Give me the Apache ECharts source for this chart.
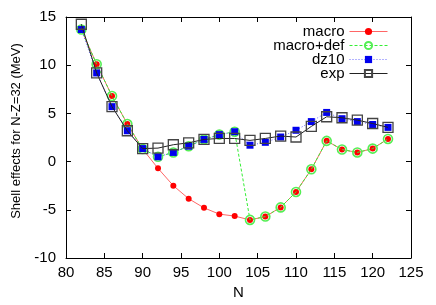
<!DOCTYPE html>
<html><head><meta charset="utf-8">
<script src="https://cdn.jsdelivr.net/npm/echarts@6/dist/echarts.min.js"></script>
<style>html,body{margin:0;padding:0;background:#fff}#c{width:436px;height:305px}</style>
</head><body><div id="c"></div>
<script>
const N = [82,84,86,88,90,92,94,96,98,100,102,104,106,108,110,112,114,116,118,120,122];
const macro = [13.7,10.1,6.8,3.9,1.3,-0.7,-2.5,-3.85,-4.8,-5.45,-5.65,-6.05,-5.7,-4.75,-3.15,-0.8,2.15,1.25,0.95,1.35,2.35];
const macroDef = [13.7,10.1,6.8,3.9,1.3,0.5,0.95,1.6,2.3,2.8,3.1,-6.05,-5.7,-4.75,-3.15,-0.8,2.15,1.25,0.95,1.35,2.35];
const dz10 = [13.7,9.2,5.7,3.2,1.35,0.5,0.95,1.6,2.3,2.8,3.1,1.7,2.0,2.55,3.25,4.15,5.1,4.45,4.15,3.85,3.55];
const expv = [14.25,9.2,5.7,3.2,1.35,1.4,1.75,1.95,2.3,2.4,2.4,2.2,2.4,2.65,2.55,3.65,4.65,4.55,4.3,3.95,3.55];
const seriesNames = ['macro','macro+def','dz10','exp'];
const xLabel = 'N';
const yLabel = 'Shell effects for N-Z=32 (MeV)';

const pairs = a => N.map((n,i)=>[n,a[i]]);
const font = 'Liberation Sans, Arial, Helvetica, sans-serif';
const chart = echarts.init(document.getElementById('c'), null, {renderer:'canvas'});
const axCommon = {
  type:'value', axisLine:{show:true, onZero:false, lineStyle:{color:'#000',width:1}},
  axisTick:{show:true, inside:true, length:5, lineStyle:{color:'#000'}},
  splitLine:{show:false}
};
const clear = 'rgba(255,255,255,0)';
chart.setOption({
  animation:false,
  grid:{left:66, right:25, top:17, bottom:44},
  legend:{
    orient:'vertical', right:43, top:19, align:'right', itemGap:-1,
    itemWidth:38, itemHeight:9,
    lineStyle:{width:1},
    textStyle:{fontFamily:font, fontSize:15, color:'#000'},
    data:seriesNames
  },
  xAxis:[
    Object.assign({}, axCommon, {min:80, max:125, interval:5, position:'bottom',
      name:xLabel, nameLocation:'middle', nameGap:27,
      nameTextStyle:{fontFamily:font, fontSize:15, color:'#000'},
      axisLabel:{fontFamily:font, fontSize:15, color:'#000', margin:7}}),
    Object.assign({}, axCommon, {min:80, max:125, interval:5, position:'top', axisLabel:{show:false}})
  ],
  yAxis:[
    Object.assign({}, axCommon, {min:-10, max:15, interval:5, position:'left',
      name:yLabel, nameLocation:'middle', nameGap:30,
      nameTextStyle:{fontFamily:font, fontSize:13, color:'#000', padding:[0,0,0,13]},
      axisLabel:{fontFamily:font, fontSize:15, color:'#000', margin:10}}),
    Object.assign({}, axCommon, {min:-10, max:15, interval:5, position:'right', axisLabel:{show:false}})
  ],
  series:[
    {name:seriesNames[0], type:'line', data:pairs(macro), symbol:'circle', symbolSize:6, showAllSymbol:true,
      lineStyle:{color:'#ff6666', width:1}, itemStyle:{color:'#ff0000'}, z:2},
    {name:seriesNames[1], type:'line', data:pairs(macroDef), symbol:'circle', symbolSize:9, showAllSymbol:true,
      lineStyle:{color:'#33ee33', width:1, type:[3,2]}, itemStyle:{color:clear, borderColor:'#55ee55', borderWidth:1.6, opacity:1}, z:3},
    {name:seriesNames[2], type:'line', data:pairs(dz10), symbol:'rect', symbolSize:7, showAllSymbol:true,
      lineStyle:{color:'#6666ff', width:1, type:[1,2]}, itemStyle:{color:'#0000ee'}, z:4},
    {name:seriesNames[3], type:'line', data:pairs(expv), symbol:'rect', symbolSize:10, showAllSymbol:true,
      lineStyle:{color:'#222', width:1}, itemStyle:{color:clear, borderColor:'#444', borderWidth:1.3}, z:5}
  ]
});
</script></body></html>
